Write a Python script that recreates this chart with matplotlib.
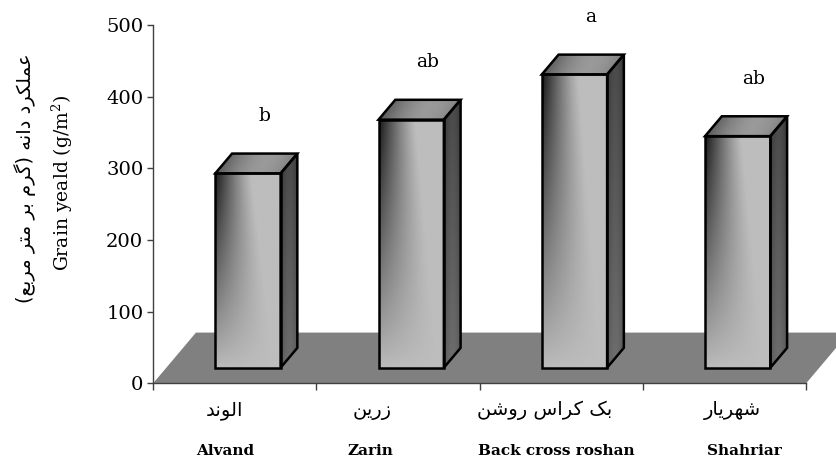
"""3D-style bar chart: grain yield of four wheat cultivars with Duncan groups."""

import numpy as np
import matplotlib
matplotlib.use("Agg")
import matplotlib.pyplot as plt
from matplotlib.patches import Polygon
from matplotlib.transforms import blended_transform_factory

CULTIVARS_EN = ["Alvand", "Zarin", "Back cross roshan", "Shahriar"]
CULTIVARS_FA = ["الوند", "زرین", "بک کراس روشن", "شهریار"]
YIELD = [271, 346, 409, 323]
GROUPS = ["b", "ab", "a", "ab"]
Y_TICKS = [0, 100, 200, 300, 400, 500]
YLABEL_FA = "عملکرد دانه (گرم بر متر مربع)"
YLABEL_EN = "Grain yeald (g/m$^2$)"

# oblique "3D" geometry, in data units per unit of depth
DX, DY = 0.263, 71.0
BAR_W = 0.40
Z0, Z1 = 0.31, 0.70
# hand-placed category captions (the original has them slightly off-centre)
LABEL_X_FA = [0.44, 1.34, 2.40, 3.55]
LABEL_X_EN = [0.44, 1.33, 2.47, 3.62]

plt.rcParams["mathtext.fontset"] = "dejavuserif"

# minimal Persian shaping: isolated, final, initial, medial
FORMS = {
    "ا": ("\uFE8D", "\uFE8E", None, None),
    "ب": ("\uFE8F", "\uFE90", "\uFE91", "\uFE92"),
    "ت": ("\uFE95", "\uFE96", "\uFE97", "\uFE98"),
    "د": ("\uFEA9", "\uFEAA", None, None),
    "ر": ("\uFEAD", "\uFEAE", None, None),
    "ز": ("\uFEAF", "\uFEB0", None, None),
    "س": ("\uFEB1", "\uFEB2", "\uFEB3", "\uFEB4"),
    "ش": ("\uFEB5", "\uFEB6", "\uFEB7", "\uFEB8"),
    "ع": ("\uFEC9", "\uFECA", "\uFECB", "\uFECC"),
    "ل": ("\uFEDD", "\uFEDE", "\uFEDF", "\uFEE0"),
    "م": ("\uFEE1", "\uFEE2", "\uFEE3", "\uFEE4"),
    "ن": ("\uFEE5", "\uFEE6", "\uFEE7", "\uFEE8"),
    "ه": ("\uFEE9", "\uFEEA", "\uFEEB", "\uFEEC"),
    "و": ("\uFEED", "\uFEEE", None, None),
    "ک": ("\uFB8E", "\uFB8F", "\uFB90", "\uFB91"),
    "گ": ("\uFB92", "\uFB93", "\uFB94", "\uFB95"),
    "ی": ("\uFBFC", "\uFBFD", "\uFBFE", "\uFBFF"),
}
MIRROR = {"(": ")", ")": "("}


def shape_fa(text):
    out = []
    for i, c in enumerate(text):
        if c not in FORMS:
            out.append(c)
            continue
        prev = text[i - 1] if i > 0 else ""
        nxt = text[i + 1] if i + 1 < len(text) else ""
        join_prev = prev in FORMS and FORMS[prev][2] is not None
        join_next = nxt in FORMS and FORMS[c][2] is not None
        iso, fin, ini, med = FORMS[c]
        if join_prev and join_next:
            out.append(med)
        elif join_prev:
            out.append(fin)
        elif join_next:
            out.append(ini)
        else:
            out.append(iso)
    return "".join(MIRROR.get(c, c) for c in reversed(out))


def shaded_face(ax, verts, img, zorder):
    poly = Polygon(verts, closed=True, facecolor="none", edgecolor="black",
                   lw=1.8, joinstyle="miter", zorder=zorder + 0.1)
    ax.add_patch(poly)
    xs = [p[0] for p in verts]
    ys = [p[1] for p in verts]
    im = ax.imshow(img, extent=(min(xs), max(xs), min(ys), max(ys)), origin="upper",
                   cmap="gray", vmin=0, vmax=1, aspect="auto", zorder=zorder,
                   interpolation="bilinear")
    im.set_clip_path(poly)


def draw_bar(ax, xc, value, zorder):
    x0, x1 = xc - BAR_W / 2, xc + BAR_W / 2
    yb = Z0 * DY
    yt = yb + value
    ddx, ddy = (Z1 - Z0) * DX, (Z1 - Z0) * DY

    # front face: dark top-left, light grey to the right of a diagonal
    v, u = np.mgrid[0:1:300j, 0:1:80j]
    s = np.clip(u / (0.55 + 0.35 * v), 0, 1)
    dark = 0.64 * (1 - v) ** 0.9
    front = 0.74 - dark * (1 - s) ** 1.2
    shaded_face(ax, [(x0, yb), (x1, yb), (x1, yt), (x0, yt)], front, zorder)

    # side face
    v, u = np.mgrid[0:1:300j, 0:1:20j]
    side = 0.22 + 0.14 * v + 0.07 * np.sin(np.pi * u)
    shaded_face(ax, [(x1, yb), (x1 + ddx, yb + ddy), (x1 + ddx, yt + ddy), (x1, yt)], side, zorder)

    # top face
    v, u = np.mgrid[0:1:20j, 0:1:80j]
    top = 0.24 + 0.36 * np.sin(np.pi * np.clip(u * 0.75 + 0.1 * v, 0, 1))
    shaded_face(ax, [(x0, yt), (x1, yt), (x1 + ddx, yt + ddy), (x0 + ddx, yt + ddy)], top, zorder)


fig = plt.figure(figsize=(8.37, 4.59), dpi=100)
ax = fig.add_axes([0.1828, 0.1645, 0.7802, 0.7810])
n = len(YIELD)

floor = Polygon([(0, 0), (n, 0), (n + DX, DY), (DX, DY)], closed=True,
                facecolor="#808080", edgecolor="none", zorder=1, clip_on=False)
ax.add_patch(floor)

for i, (val, grp) in enumerate(zip(YIELD, GROUPS)):
    xc = i + 0.5 + Z0 * DX
    draw_bar(ax, xc, val, zorder=2 + i)
    ax.text(xc + 0.1, Z0 * DY + val + 80, grp, ha="center", va="center",
            fontsize=13.5, family="DejaVu Serif", color="black")

ax.set_xlim(0, n)
ax.set_ylim(0, 500)
ax.set_yticks(Y_TICKS)
ax.set_yticklabels([str(t) for t in Y_TICKS], family="DejaVu Serif", fontsize=14)
ax.set_xticks(range(n + 1))
ax.set_xticklabels([])
ax.tick_params(axis="y", direction="out", length=4, width=1, color="#404040", pad=3)
ax.tick_params(axis="x", direction="out", length=5, width=1, color="#404040")
for side in ("top", "right"):
    ax.spines[side].set_visible(False)
for side in ("left", "bottom"):
    ax.spines[side].set_color("#404040")
    ax.spines[side].set_linewidth(1)
    ax.spines[side].set_zorder(1.5)
ax.patch.set_visible(False)

trans = blended_transform_factory(ax.transData, ax.transAxes)
for xf, xe, fa, en in zip(LABEL_X_FA, LABEL_X_EN, CULTIVARS_FA, CULTIVARS_EN):
    ax.text(xf, -0.074, shape_fa(fa), transform=trans, ha="center", va="center",
            fontsize=14, family="DejaVu Sans")
    ax.text(xe, -0.188, en, transform=trans, ha="center", va="center",
            fontsize=11, family="DejaVu Serif", weight="bold")

fig.text(0.030, 0.612, shape_fa(YLABEL_FA), rotation=90, ha="center", va="center",
         fontsize=14, family="DejaVu Sans")
fig.text(0.074, 0.601, YLABEL_EN, rotation=90, ha="center", va="center",
         fontsize=13.5, family="DejaVu Serif")

fig.savefig("out.png", dpi=100)
